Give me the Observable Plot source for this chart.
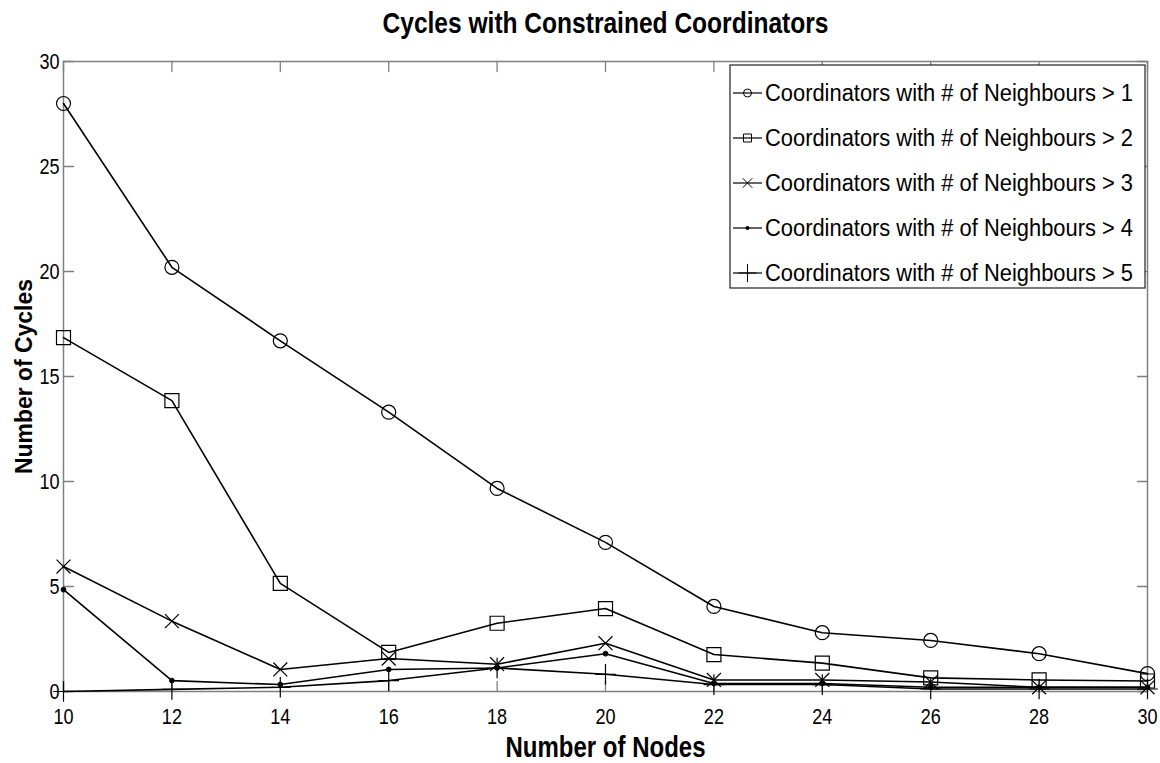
<!DOCTYPE html>
<html><head><meta charset="utf-8">
<script src="https://cdn.jsdelivr.net/npm/d3@7"></script>
<script src="https://cdn.jsdelivr.net/npm/@observablehq/plot@0.6"></script>
<style>body{margin:0;background:#fff} #chart{width:1160px;height:763px}</style>
</head><body><div id="chart"></div>
<script>
const nodes = [10, 12, 14, 16, 18, 20, 22, 24, 26, 28, 30];
const seriesNames = [
  "Coordinators with # of Neighbours > 1",
  "Coordinators with # of Neighbours > 2",
  "Coordinators with # of Neighbours > 3",
  "Coordinators with # of Neighbours > 4",
  "Coordinators with # of Neighbours > 5"
];
const gt1 = [28.0, 20.2, 16.7, 13.3, 9.67, 7.1, 4.05, 2.8, 2.43, 1.8, 0.85];
const gt2 = [16.85, 13.85, 5.15, 1.86, 3.25, 3.95, 1.76, 1.35, 0.65, 0.55, 0.5];
const gt3 = [5.95, 3.35, 1.05, 1.57, 1.3, 2.3, 0.55, 0.55, 0.45, 0.2, 0.2];
const gt4 = [4.85, 0.52, 0.33, 1.05, 1.12, 1.8, 0.38, 0.38, 0.2, 0.2, 0.2];
const gt5 = [0, 0.1, 0.2, 0.52, 1.12, 0.82, 0.33, 0.33, 0.12, 0.12, 0.12];
const xTicks = [10, 12, 14, 16, 18, 20, 22, 24, 26, 28, 30];
const yTicks = [0, 5, 10, 15, 20, 25, 30];
const titleText = "Cycles with Constrained Coordinators";
const xLabel = "Number of Nodes";
const yLabel = "Number of Cycles";

const valuesBySeries = [gt1, gt2, gt3, gt4, gt5];
const table = seriesNames.flatMap((s, i) => nodes.map((n, j) => ({series: s, nodes: n, cycles: valuesBySeries[i][j]})));

const sans = "'Liberation Sans', Arial, Helvetica, sans-serif";
const gray = "#7f7f7f";
const tickShape = {draw(ctx, l) { ctx.moveTo(0, 0); ctx.lineTo(0, -l); }};

const markerStyles = [
  {symbol: "circle", r: 7, fill: "none", strokeWidth: 1.2, legendSize: 50},
  {symbol: "square", r: 7.9, fill: "none", strokeWidth: 1.2, legendSize: 64},
  {symbol: "times", r: 6.4, fill: "none", strokeWidth: 1.2, legendSize: 60},
  {symbol: "circle", r: 2.4, fill: "black", strokeWidth: 1, legendSize: 8},
  {symbol: "plus", r: 6.7, fill: "none", strokeWidth: 1.2, legendSize: 110}
];

const dotMarks = seriesNames.map((s, i) => Plot.dot(table.filter(d => d.series === s), {
  x: "nodes", y: "cycles", symbol: markerStyles[i].symbol, r: markerStyles[i].r,
  stroke: "black", fill: markerStyles[i].fill, strokeWidth: markerStyles[i].strokeWidth
}));

const chart = Plot.plot({
  width: 1160, height: 763,
  marginLeft: 63, marginRight: 13, marginTop: 61, marginBottom: 72,
  x: {domain: [10, 30]},
  y: {domain: [0, 30]},
  style: {fontFamily: sans, background: "white", color: "black"},
  marks: [
    Plot.frame({stroke: gray, strokeWidth: 1.5}),
    Plot.vector(yTicks, {x: 10, y: d => d, rotate: 90, length: 10, anchor: "start", shape: tickShape, stroke: gray, strokeWidth: 1.3}),
    Plot.vector(yTicks, {x: 30, y: d => d, rotate: -90, length: 10, anchor: "start", shape: tickShape, stroke: gray, strokeWidth: 1.3}),
    Plot.vector(xTicks, {x: d => d, y: 0, rotate: 0, length: 10, anchor: "start", shape: tickShape, stroke: gray, strokeWidth: 1.3}),
    Plot.vector(xTicks, {x: d => d, y: 30, rotate: 180, length: 10, anchor: "start", shape: tickShape, stroke: gray, strokeWidth: 1.3}),
    Plot.axisX(xTicks, {tickSize: 0, tickPadding: 17, fontSize: 22, label: null, fill: "black"}),
    Plot.axisY(yTicks, {tickSize: 0, tickPadding: 4, fontSize: 22, label: null, fill: "black"}),
    Plot.line(table, {x: "nodes", y: "cycles", z: "series", stroke: "black", strokeWidth: 1.6}),
    ...dotMarks,
    Plot.text([titleText], {frameAnchor: "top", lineAnchor: "middle", textAnchor: "middle", dy: -38.5, fontSize: 30, fontWeight: "bold", fill: "black", className: "ttl"}),
    Plot.text([xLabel], {frameAnchor: "bottom", lineAnchor: "middle", textAnchor: "middle", dy: 56, fontSize: 30, fontWeight: "bold", fill: "black", className: "xlab"}),
    Plot.text([yLabel], {frameAnchor: "left", lineAnchor: "middle", textAnchor: "middle", rotate: -90, dx: -38.5, fontSize: 23, fontWeight: "bold", fill: "black", className: "ylab"})
  ]
});

// Legend
const svg = d3.select(chart);
const lg = svg.append("g").attr("class", "legend");
lg.append("rect").attr("x", 730).attr("y", 65).attr("width", 415).attr("height", 223)
  .attr("fill", "white").attr("stroke", "#222").attr("stroke-width", 1.2);
const symMap = {circle: d3.symbolCircle, square: d3.symbolSquare, times: d3.symbolTimes, plus: d3.symbolPlus};
seriesNames.forEach((s, i) => {
  const y = 93 + i * 45;
  const row = lg.append("g");
  row.append("line").attr("x1", 733).attr("x2", 762).attr("y1", y).attr("y2", y).attr("stroke", "black").attr("stroke-width", 1.2);
  const m = markerStyles[i];
  row.append("path").attr("d", d3.symbol(symMap[m.symbol], m.legendSize)())
    .attr("transform", `translate(747.5,${y})`)
    .attr("fill", m.fill).attr("stroke", "black").attr("stroke-width", 1);
  row.append("text").attr("class", "legtext").attr("x", 765).attr("y", y).attr("dy", "0.36em")
    .attr("text-anchor", "start")
    .attr("font-family", sans).attr("font-size", 23.5).attr("fill", "black").text(s);
});

document.getElementById("chart").appendChild(chart);

// Condense the text to mimic the narrow Helvetica of the original
const exact = {ttl: 446, xlab: 200, ylab: 195, legtext: 368};
svg.selectAll("text").each(function () {
  let target = null;
  for (const k of Object.keys(exact)) {
    if (this.closest("." + k) || this.classList.contains(k)) target = exact[k];
  }
  const w = this.getComputedTextLength();
  if (!w) return;
  this.setAttribute("textLength", target ?? w * 0.82);
  this.setAttribute("lengthAdjust", "spacingAndGlyphs");
});
</script>
</body></html>
